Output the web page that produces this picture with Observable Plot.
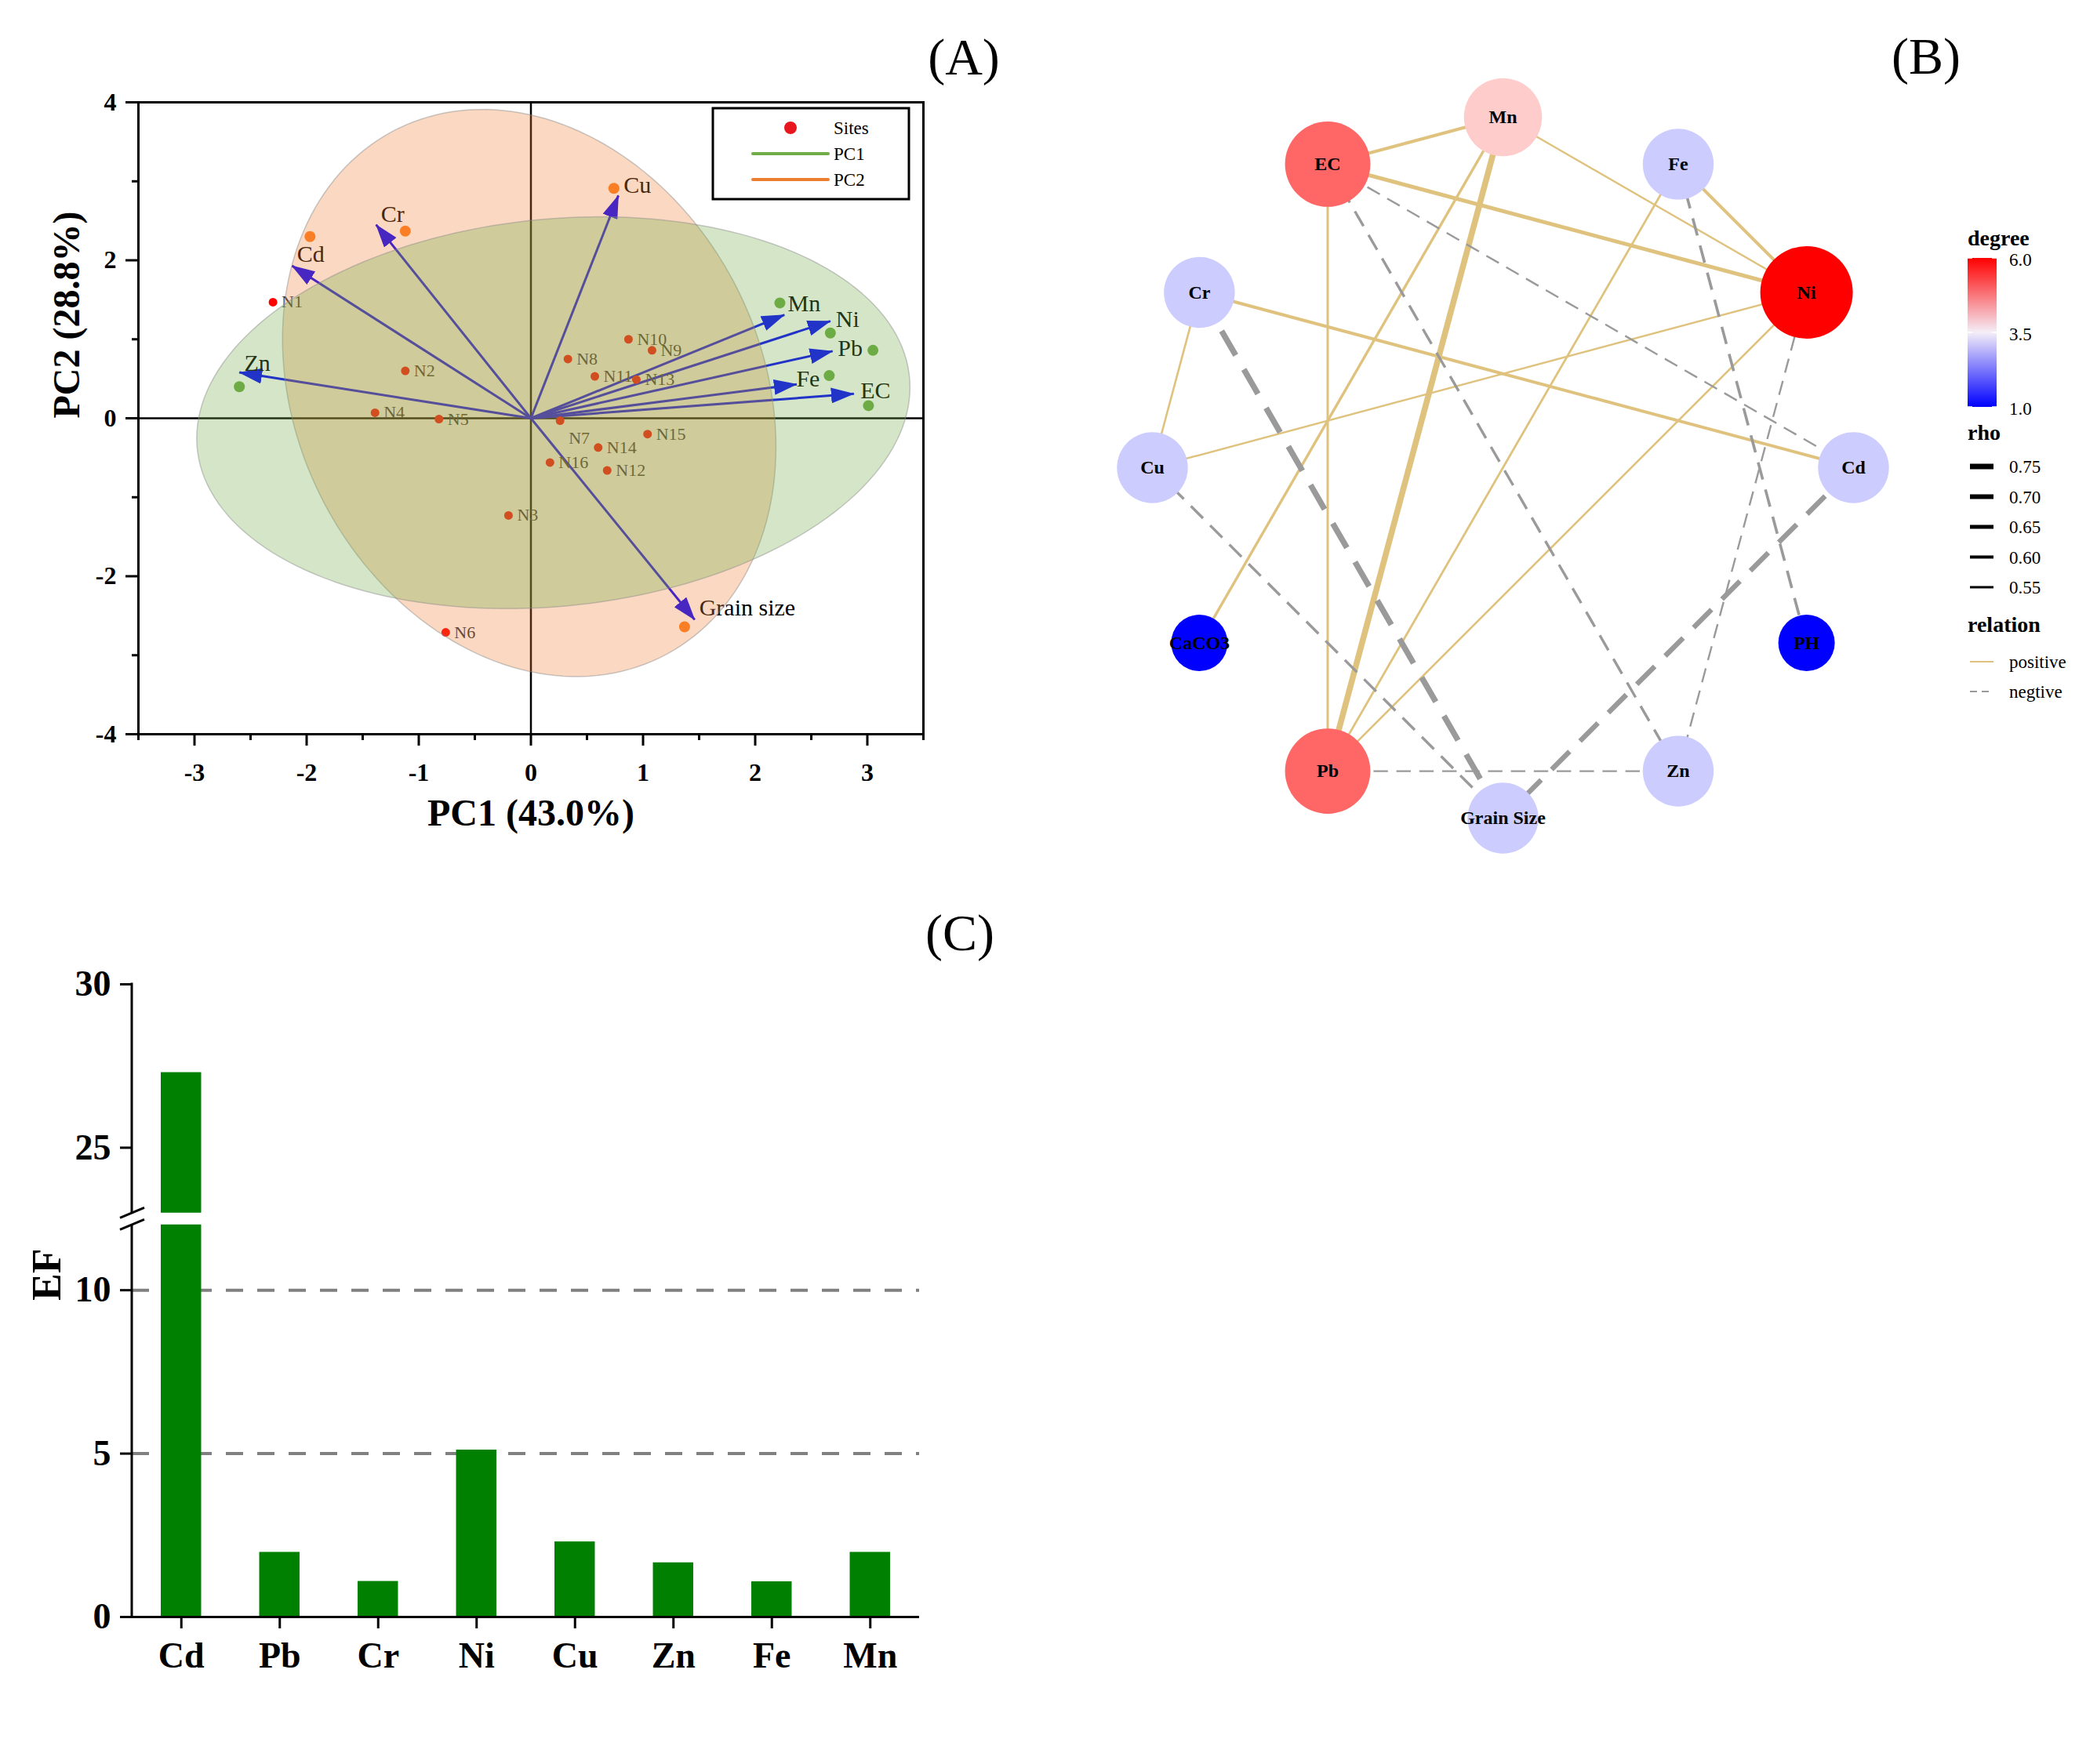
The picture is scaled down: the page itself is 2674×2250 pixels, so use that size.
<!DOCTYPE html>
<html><head><meta charset="utf-8">
<script src="https://cdn.jsdelivr.net/npm/d3@7"></script>
<script src="https://cdn.jsdelivr.net/npm/@observablehq/plot@0.6"></script>
<style>
html,body{margin:0;padding:0;background:#fff;}
#root{position:relative;width:2674px;height:2250px;background:#fff;overflow:hidden;font-family:"Liberation Serif","Times New Roman",Times,serif;}
.panel-label{position:absolute;font-size:66px;line-height:1;transform:translate(-50%,-50%);color:#000;}
</style></head>
<body><div id="root"></div>
<script>
// ================= DATA =================
// Panel A: PCA biplot
const siteNames = ["N1","N2","N3","N4","N5","N6","N7","N8","N9","N10","N11","N12","N13","N14","N15","N16"];
const sitePC1 = [-2.30,-1.12,-0.20,-1.39,-0.82,-0.76,0.26,0.33,1.08,0.87,0.57,0.68,0.94,0.60,1.04,0.17];
const sitePC2 = [1.47,0.60,-1.23,0.07,-0.01,-2.71,-0.03,0.75,0.86,1.00,0.53,-0.66,0.49,-0.37,-0.20,-0.56];

const varNames = ["Cd","Cr","Cu","Grain size","Zn","Mn","Ni","Pb","Fe","EC"];
const varGroup = ["PC2","PC2","PC2","PC2","PC1","PC1","PC1","PC1","PC1","PC1"];
const varPC1  = [-1.97,-1.12,0.74,1.37,-2.60,2.22,2.67,3.05,2.66,3.01];
const varPC2  = [2.30,2.37,2.91,-2.64,0.40,1.46,1.08,0.86,0.54,0.16];
const loadPC1 = [-2.13,-1.38,0.78,1.46,-2.60,2.26,2.67,2.69,2.37,2.88];
const loadPC2 = [1.93,2.45,2.82,-2.55,0.58,1.31,1.23,0.85,0.43,0.31];

// confidence ellipses (centre, radii, tilt)
const ellipseGroup = ["PC2","PC1"];
const ellipseCx = [-0.015, 0.20];
const ellipseCy = [0.32, 0.07];
const ellipseRx = [2.20, 3.18];
const ellipseRy = [3.59, 2.48];
const ellipseTilt = [-0.19, 0.13];

const pcaXTicks = [-3,-2,-1,0,1,2,3];
const pcaXMinor = [-3.5,-2.5,-1.5,-0.5,0.5,1.5,2.5,3.5];
const pcaYTicks = [-4,-2,0,2,4];
const pcaYMinor = [-3,-1,1,3];

// Panel B: correlation network (nodes in circular order, counter-clockwise from 3 o'clock)
const nodeNames = ["Cd","Ni","Fe","Mn","EC","Cr","Cu","CaCO3","Pb","Grain Size","Zn","PH"];
const edgeFrom = ["EC","EC","EC","Mn","Mn","Mn","Fe","Fe","Cr","Cr","Cu","Ni","EC","EC","Fe","Ni","Cr","Cu","Pb","Cd"];
const edgeTo   = ["Mn","Ni","Pb","Ni","CaCO3","Pb","Ni","Pb","Cd","Cu","Ni","Pb","Cd","Zn","PH","Zn","Grain Size","Grain Size","Zn","Grain Size"];
const edgeRho  = [0.60,0.65,0.55,0.52,0.57,0.78,0.60,0.54,0.60,0.53,0.52,0.53,-0.52,-0.57,-0.58,-0.52,-0.77,-0.57,-0.52,-0.72];
const rhoLegendValues = [0.75,0.70,0.65,0.60,0.55];
const degreeLegendValues = [6.0,3.5,1.0];

// Panel C: enrichment factor
const efElements = ["Cd","Pb","Cr","Ni","Cu","Zn","Fe","Mn"];
const efValues = [27.3,1.98,1.09,5.11,2.30,1.66,1.08,1.98];
const efTicks = [0,5,10,25,30];
const efThresholds = [5,10];
const efBreakLow = 12, efBreakHigh = 23;

// ================= HELPERS =================
const FONT = '"Liberation Serif","Times New Roman",Times,serif';
const root = document.getElementById("root");
function svgOf(c){ return c.tagName.toLowerCase()==="svg" ? c : c.querySelector("svg"); }
function place(el, left, top){
  const d = document.createElement("div");
  d.style.position="absolute"; d.style.left=left+"px"; d.style.top=top+"px";
  d.appendChild(el); root.appendChild(d); return d;
}
function baseStyle(size, weight){
  return {fontFamily: FONT, fontSize: size+"px", fontWeight: weight, background: "transparent", overflow: "visible", maxWidth: "none", color: "#000"};
}

// ================= PANEL A =================
const A = {w:1220, h:1040, ml:176, mr:43, mt:50, mb:184, left:0, top:80};
const uxA = 7 / (A.w - A.ml - A.mr);
const uyA = 8 / (A.h - A.mt - A.mb);
const sites = siteNames.map((n,i)=>({name:n, pc1:sitePC1[i], pc2:sitePC2[i]}));
const vars = varNames.map((n,i)=>({name:n, group:varGroup[i], pc1:varPC1[i], pc2:varPC2[i], l1:loadPC1[i], l2:loadPC2[i]}));
const ellipsePts = ellipseGroup.flatMap((g,k)=>{
  const phi = Math.asin(ellipseTilt[k]);
  return d3.range(180).map(j=>{
    const t = j/180*2*Math.PI;
    return {group:g, pc1: ellipseCx[k] + ellipseRx[k]*Math.cos(t), pc2: ellipseCy[k] + ellipseRy[k]*Math.sin(t+phi)};
  });
});
const groupColor = {PC1:"#70AD47", PC2:"#ED7D31"};
const groupPointColor = {PC1:"#6cab44", PC2:"#ff7f22"};
// label offsets (px) for variable names
const varLabelOffset = {"Cd":[1,23],"Cr":[-16,-21],"Cu":[30,-4],"Grain size":[80,-24],"Zn":[23,-30],
  "Mn":[31,1],"Ni":[22,-17],"Pb":[-29,-2],"Fe":[-27,4],"EC":[9,-19]};

const chartA = Plot.plot({
  width:A.w, height:A.h, marginLeft:A.ml, marginRight:A.mr, marginTop:A.mt, marginBottom:A.mb,
  x:{domain:[-3.5,3.5], axis:null},
  y:{domain:[-4,4], axis:null},
  style: baseStyle(32,"bold"),
  marks:[
    Plot.ruleX([0], {y1:-4, y2:4, strokeWidth:2.5}),
    Plot.ruleY([0], {x1:-3.5, x2:3.5, strokeWidth:2.5}),
    Plot.ruleX(pcaXTicks, {y1:-4, y2:-4-15*uyA, strokeWidth:3}),
    Plot.ruleX(pcaXMinor, {y1:-4, y2:-4-8*uyA, strokeWidth:3}),
    Plot.ruleY(pcaYTicks, {x1:-3.5, x2:-3.5-16*uxA, strokeWidth:3}),
    Plot.ruleY(pcaYMinor, {x1:-3.5, x2:-3.5-8*uxA, strokeWidth:3}),
    Plot.frame({strokeWidth:3}),
    Plot.text(pcaXTicks, {x:d=>d, y:-4, dy:49, text:d=>String(d), fontSize:32}),
    Plot.text(pcaYTicks, {x:-3.5, y:d=>d, dx:-28, textAnchor:"end", text:d=>String(d), fontSize:32}),
    Plot.text(["PC1 (43.0%)"], {text:d=>d, frameAnchor:"bottom", dy:116, fontSize:48}),
    Plot.text(["PC2 (28.8%)"], {text:d=>d, frameAnchor:"left", dx:-91, rotate:-90, fontSize:48}),
    Plot.link(vars, {x1:0, y1:0, x2:"l1", y2:"l2", stroke:"#0000ff", strokeWidth:3}),
    Plot.dot(sites, {x:"pc1", y:"pc2", r:5.5, fill:"#ff0000"}),
    Plot.text(sites.filter(d=>d.name!=="N7"), {x:"pc1", y:"pc2", text:"name", textAnchor:"start", dx:11, fontSize:22, fontWeight:"normal", fill:"#333"}),
    Plot.text(sites.filter(d=>d.name==="N7"), {x:"pc1", y:"pc2", text:"name", textAnchor:"start", dx:11, dy:22, fontSize:22, fontWeight:"normal", fill:"#333"}),
    ...ellipseGroup.map(g=>Plot.dot(vars.filter(d=>d.group===g), {x:"pc1", y:"pc2", r:7, fill:groupPointColor[g]})),
    ...vars.map(v=>Plot.text([v], {x:"pc1", y:"pc2", text:"name", dx:varLabelOffset[v.name][0], dy:varLabelOffset[v.name][1], fontSize:30, fontWeight:"normal", fill:"#000"})),
    ...ellipseGroup.map(g=>Plot.line(ellipsePts.filter(d=>d.group===g), {x:"pc1", y:"pc2", curve:"linear-closed",
      fill:groupColor[g], fillOpacity:0.3, stroke:"#8a8a8a", strokeOpacity:0.45, strokeWidth:1.5}))
  ]
});
{
  const svg = svgOf(chartA);
  const defs = d3.select(svg).insert("defs", ":first-child");
  defs.append("marker").attr("id","arrowHeadA").attr("viewBox","0 0 30 20")
    .attr("refX",29).attr("refY",10).attr("markerWidth",30).attr("markerHeight",20)
    .attr("markerUnits","userSpaceOnUse").attr("orient","auto")
    .append("path").attr("d","M0,0L30,10L0,20Z").attr("fill","#0000ff");
  d3.select(svg).selectAll('g[aria-label="link"] path').attr("marker-end","url(#arrowHeadA)");
}
place(chartA, A.left, A.top);

// legend A
{
  const s = d3.create("svg").attr("width",270).attr("height",135).style("overflow","visible")
    .style("font-family",FONT);
  s.append("rect").attr("x",9).attr("y",8).attr("width",250).attr("height",116).attr("fill","#fff").attr("stroke","#000").attr("stroke-width",3);
  s.append("circle").attr("cx",108).attr("cy",33).attr("r",8).attr("fill","#e8161f");
  s.append("line").attr("x1",60).attr("x2",156).attr("y1",66).attr("y2",66).attr("stroke",groupColor.PC1).attr("stroke-width",4).attr("stroke-linecap","round");
  s.append("line").attr("x1",60).attr("x2",156).attr("y1",99).attr("y2",99).attr("stroke",groupColor.PC2).attr("stroke-width",4).attr("stroke-linecap","round");
  [["Sites",33],["PC1",66],["PC2",99]].forEach(([t,y])=>s.append("text").attr("x",163).attr("y",y).attr("dy","0.35em").attr("font-size",23).text(t));
  place(s.node(), 900, 130);
}

// ================= PANEL B =================
const B = {w:1080, h:1040, cx:536, cy:516, R:447, left:1380, top:80};
const angStep = 2*Math.PI/nodeNames.length;
const nodePos = new Map(nodeNames.map((n,i)=>[n,[Math.cos(i*angStep), Math.sin(i*angStep)]]));
const edges = edgeFrom.map((f,i)=>({from:f, to:edgeTo[i], rho:edgeRho[i]}));
const degree = new Map(nodeNames.map(n=>[n,0]));
edges.forEach(e=>{degree.set(e.from,degree.get(e.from)+1); degree.set(e.to,degree.get(e.to)+1);});
const nodes = nodeNames.map(n=>({name:n, x:nodePos.get(n)[0], y:nodePos.get(n)[1], degree:degree.get(n)}));
const edgeRows = edges.map(e=>({...e, x1:nodePos.get(e.from)[0], y1:nodePos.get(e.from)[1], x2:nodePos.get(e.to)[0], y2:nodePos.get(e.to)[1]}));
const widthOf = d3.scaleLinear([0.5,0.8],[2,8]);
const posColor = "#dfc27d", negColor = "#9a9a9a";
const dashOf = w => `${(w*3.5+10).toFixed(1)},${(w*2+6).toFixed(1)}`;

const chartB = Plot.plot({
  width:B.w, height:B.h, marginLeft:0, marginRight:0, marginTop:0, marginBottom:0,
  x:{domain:[-1,1], range:[B.cx-B.R, B.cx+B.R], axis:null},
  y:{domain:[-1,1], range:[B.cy+B.R, B.cy-B.R], axis:null},
  r:{type:"linear", domain:[1,6], range:[36,59]},
  color:{type:"linear", domain:[1,3.5,6], range:["#0000ff","#ffffff","#ff0000"], interpolate:"rgb"},
  style: baseStyle(24,"bold"),
  marks:[
    ...edgeRows.map(e=>{
      const w = widthOf(Math.abs(e.rho));
      return e.rho>0
        ? Plot.link([e], {x1:"x1", y1:"y1", x2:"x2", y2:"y2", stroke:posColor, strokeWidth:w})
        : Plot.link([e], {x1:"x1", y1:"y1", x2:"x2", y2:"y2", stroke:negColor, strokeWidth:w, strokeDasharray:dashOf(w)});
    }),
    Plot.dot(nodes, {x:"x", y:"y", r:"degree", fill:"degree", stroke:"none"}),
    Plot.text(nodes, {x:"x", y:"y", text:"name", fontSize:24, fontWeight:"bold", fill:"#000"})
  ]
});
place(chartB, B.left, B.top);

// legend B
{
  const s = d3.create("svg").attr("width",194).attr("height",640).style("overflow","visible").style("font-family",FONT);
  const grad = s.append("defs").append("linearGradient").attr("id","degGrad").attr("x1",0).attr("y1",0).attr("x2",0).attr("y2",1);
  grad.append("stop").attr("offset","0%").attr("stop-color","#ff0000");
  grad.append("stop").attr("offset","50%").attr("stop-color","#f4eef8");
  grad.append("stop").attr("offset","100%").attr("stop-color","#0000ff");
  const title = (t,y)=>s.append("text").attr("x",29).attr("y",y).attr("dy","0.35em").attr("font-size",28).attr("font-weight","bold").text(t);
  title("degree",33);
  const barTop=59, barBot=249;
  s.append("rect").attr("x",29).attr("y",barTop).attr("width",37).attr("height",barBot-barTop).attr("fill","url(#degGrad)");
  const degY = d3.scaleLinear([6,1],[barTop,barBot]);
  degreeLegendValues.forEach(v=>{
    s.append("text").attr("x",82).attr("y",degY(v)+2).attr("dy","0.35em").attr("font-size",23).text(v.toFixed(1));
    s.append("line").attr("x1",29).attr("x2",35).attr("y1",degY(v)).attr("y2",degY(v)).attr("stroke","#fff").attr("stroke-width",1.5);
    s.append("line").attr("x1",60).attr("x2",66).attr("y1",degY(v)).attr("y2",degY(v)).attr("stroke","#fff").attr("stroke-width",1.5);
  });
  title("rho",281);
  rhoLegendValues.forEach((v,i)=>{
    const y = 325 + i*38.5;
    s.append("line").attr("x1",32).attr("x2",62).attr("y1",y).attr("y2",y).attr("stroke","#000").attr("stroke-width",widthOf(v));
    s.append("text").attr("x",82).attr("y",y).attr("dy","0.35em").attr("font-size",23).text(v.toFixed(2));
  });
  title("relation",526);
  s.append("line").attr("x1",32).attr("x2",62).attr("y1",574).attr("y2",574).attr("stroke",posColor).attr("stroke-width",2);
  s.append("text").attr("x",82).attr("y",574).attr("dy","0.35em").attr("font-size",23).text("positive");
  s.append("line").attr("x1",32).attr("x2",62).attr("y1",612).attr("y2",612).attr("stroke",negColor).attr("stroke-width",2).attr("stroke-dasharray","9,6");
  s.append("text").attr("x",82).attr("y",612).attr("dy","0.35em").attr("font-size",23).text("negtive");
  place(s.node(), 2480, 270);
}

// ================= PANEL C =================
const C = {w:1300, h:1050, ml:168, mr:128, mt:125, mb:118, left:0, top:1130};
const efGap = 0.36;
const brk = v => v <= efBreakLow ? v : v - efBreakHigh + efBreakLow + efGap;
const innerWC = C.w - C.ml - C.mr;
const pxPerUnitC = (C.h - C.mt - C.mb) / brk(30);
const efData = efElements.map((e,i)=>({el:e, v:efValues[i]}));
const green = "#008000";
const chartC = Plot.plot({
  width:C.w, height:C.h, marginLeft:C.ml, marginRight:C.mr, marginTop:C.mt, marginBottom:C.mb,
  x:{domain:efElements, paddingInner:0.59, paddingOuter:0.295, round:false, axis:null},
  y:{domain:[0, brk(30)], axis:null},
  style: baseStyle(46,"bold"),
  marks:[
    Plot.ruleY(efThresholds, {stroke:"#808080", strokeWidth:4, strokeDasharray:"22,18"}),
    Plot.barY(efData, {x:"el", y1:0, y2:d=>brk(Math.min(d.v, efBreakLow)), fill:green}),
    Plot.barY(efData.filter(d=>d.v>efBreakHigh), {x:"el", y1:()=>brk(efBreakHigh), y2:d=>brk(d.v), fill:green}),
    Plot.ruleY([0], {insetLeft:-15, strokeWidth:3}),
    Plot.ruleY(efTicks.map(brk), {insetLeft:-15, insetRight:innerWC, strokeWidth:3}),
    Plot.ruleX(efElements, {y1:0, y2:-15/pxPerUnitC, strokeWidth:3}),
    Plot.text(efTicks, {y:d=>brk(d), text:d=>String(d), frameAnchor:"left", textAnchor:"end", dx:-27, fontSize:46}),
    Plot.text(efElements, {x:d=>d, y:0, dy:50, text:d=>d, fontSize:46}),
    Plot.text(["EF"], {text:d=>d, frameAnchor:"left", dx:-108, rotate:-90, fontSize:52})
  ]
});
{
  const svg = svgOf(chartC);
  let dom = [0, brk(30)], rng = [C.h - C.mb, C.mt];
  try { const sc = chartC.scale("y"); if (sc && sc.domain && sc.range) { dom = sc.domain; rng = sc.range; } } catch(e) {}
  const ys = d3.scaleLinear(dom, rng);
  const g = d3.select(svg).append("g").attr("stroke","#000").attr("stroke-width",3).attr("fill","none");
  g.append("line").attr("x1",C.ml).attr("x2",C.ml).attr("y1",ys(brk(30))-1.5).attr("y2",ys(brk(efBreakHigh)));
  g.append("line").attr("x1",C.ml).attr("x2",C.ml).attr("y1",ys(efBreakLow)).attr("y2",ys(0)+1.5);
  [brk(efBreakHigh), efBreakLow].forEach(v=>{
    g.append("line").attr("x1",C.ml-15).attr("y1",ys(v)+6.5).attr("x2",C.ml+16).attr("y2",ys(v)-6.5);
  });
}
place(chartC, C.left, C.top);

// ================= PANEL LABELS =================
[["(A)",1229,73],["(B)",2456,72],["(C)",1224,1190]].forEach(([t,x,y])=>{
  const d = document.createElement("div");
  d.className = "panel-label"; d.style.left = x+"px"; d.style.top = y+"px"; d.textContent = t;
  root.appendChild(d);
});
</script>
</body></html>
